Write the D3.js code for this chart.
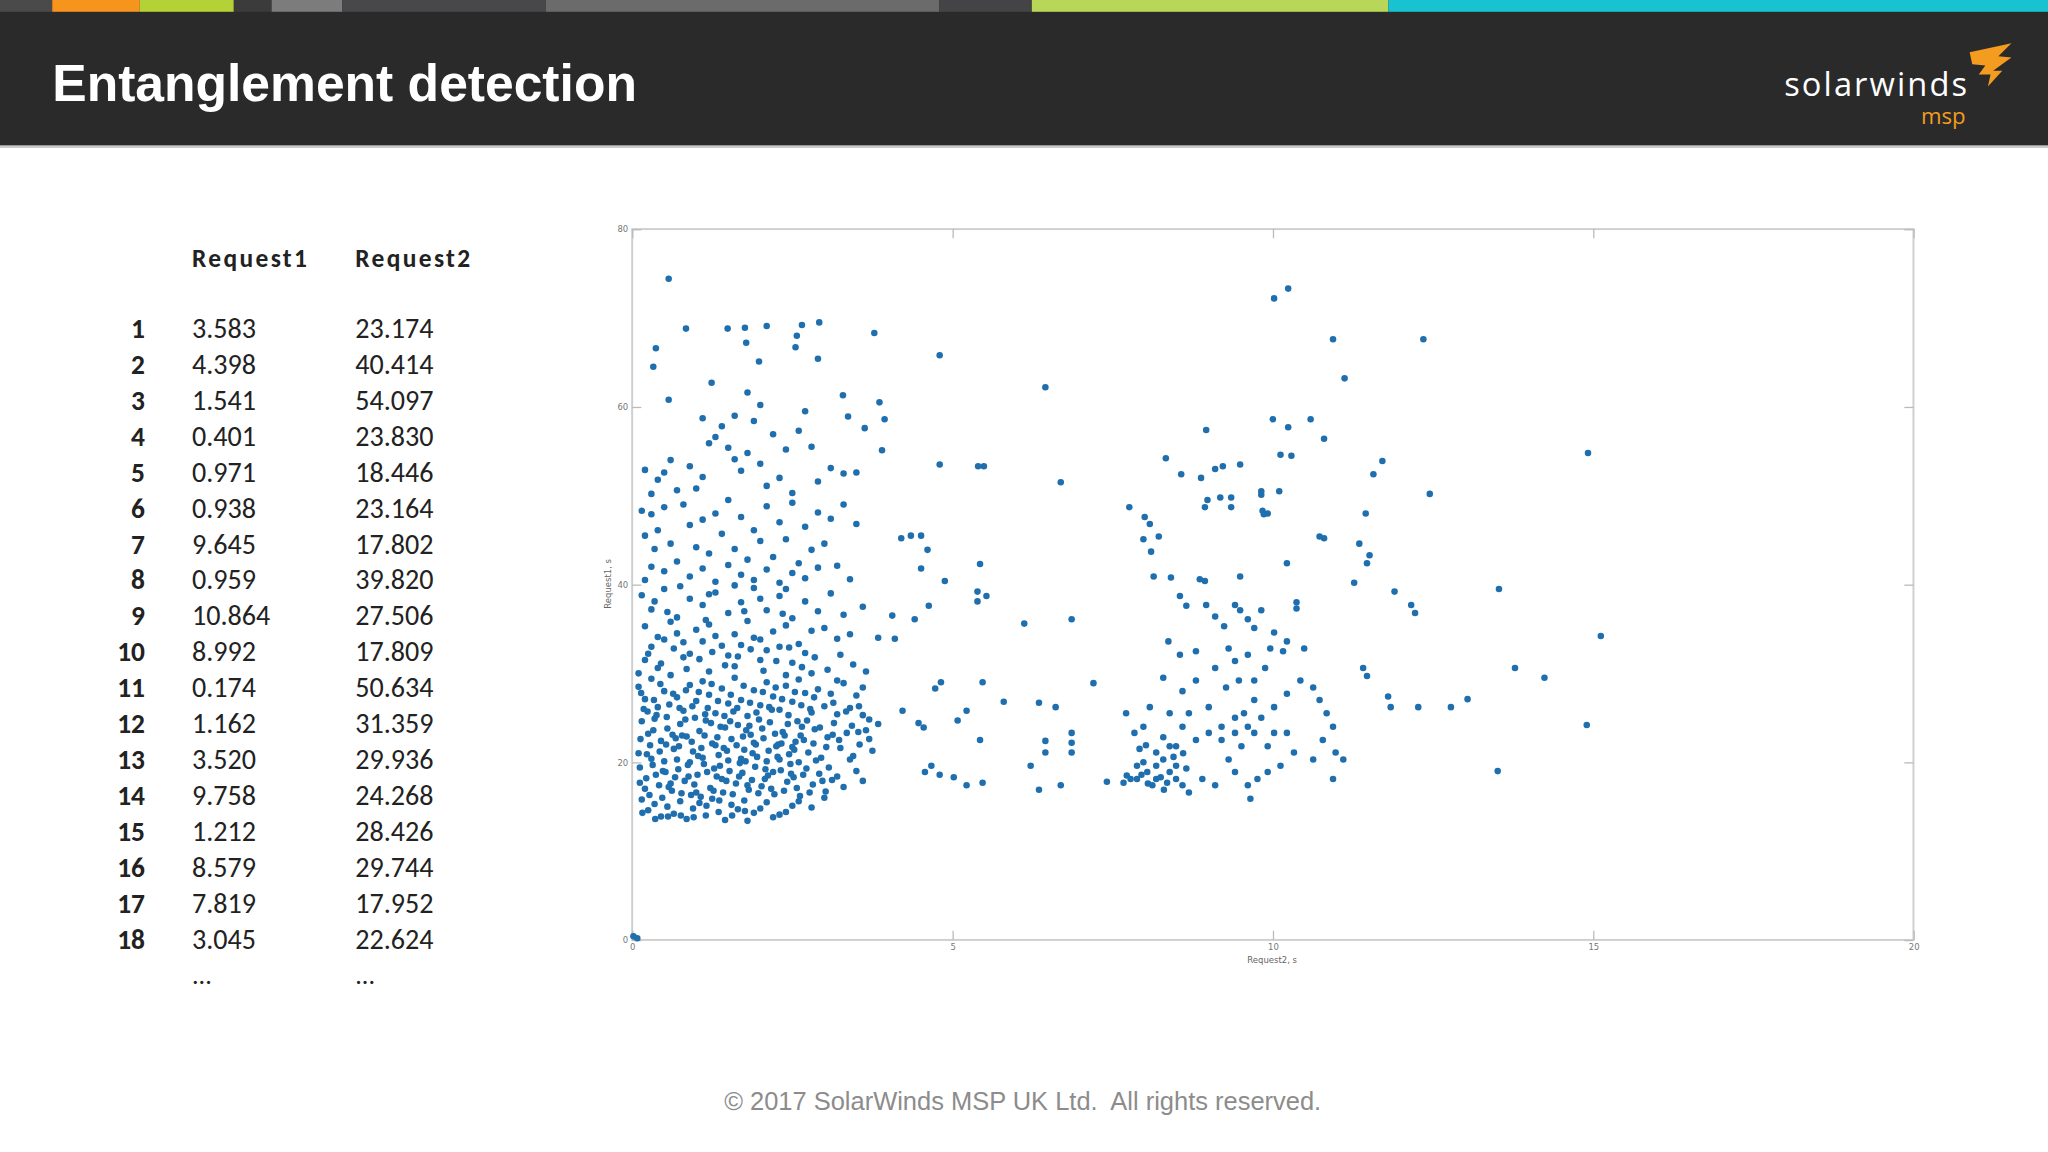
<!DOCTYPE html>
<html><head><meta charset="utf-8">
<script src="https://cdn.jsdelivr.net/npm/d3@7"></script>
<style>html,body{margin:0;padding:0;background:#fff;overflow:hidden}</style>
</head><body>
<script>
// ---- data ----
const tableIndex = [1,2,3,4,5,6,7,8,9,10,11,12,13,14,15,16,17,18];
const request1Col = ["3.583","4.398","1.541","0.401","0.971","0.938","9.645","0.959","10.864","8.992","0.174","1.162","3.520","9.758","1.212","8.579","7.819","3.045"];
const request2Col = ["23.174","40.414","54.097","23.830","18.446","23.164","17.802","39.820","27.506","17.809","50.634","31.359","29.936","24.268","28.426","29.744","17.952","22.624"];
const xTicks = [0,5,10,15,20];
const yTicks = [0,20,40,60,80];
const stripeColors = ["#4a4a4b","#f7941d","#b4d236","#3b3b3c","#7c7c7d","#48484b","#6b6b6c","#444446","#b8d658","#18c3d1"];
const stripeWidths = [40,67,72,29,54,156,301,71,273,505];

// scatter points [Request2 (x), Request1 (y)]
const sparsePts = [[0.57,74.4],[10.02,72.2],[10.24,73.3],[0.84,68.8],[1.49,68.8],[1.76,68.9],[2.1,69.1],[2.65,69.2],[2.92,69.5],[3.78,68.3],
[0.37,66.6],[0.33,64.5],[1.78,67.2],[1.98,65.1],[2.55,66.7],[2.9,65.4],[2.57,68.0],[4.8,65.8],[6.45,62.2],[10.94,67.6],[11.12,63.2],[12.35,67.6],
[0.57,60.8],[1.24,62.7],[1.8,61.6],[3.29,61.3],[3.86,60.5],[3.94,58.6],[3.9,55.1],[3.37,58.9],[3.63,57.6],
[14.92,54.8],[15.12,34.2],[14.9,24.2],[13.51,19.0],[13.53,39.5],[13.78,30.6],[14.24,29.5],
[12.45,50.2],[11.71,53.9],[11.57,52.4],[11.45,48.0],[11.35,44.6],[11.51,43.3],[11.47,42.4],[11.27,40.2],[11.9,39.2],[12.16,37.7],[12.22,36.8],[11.41,30.6],[11.47,29.7],[11.8,27.4],[11.84,26.2],[12.27,26.2],[12.78,26.2],[13.04,27.1],[10.8,56.4],[10.59,58.6],[10.0,58.6],[10.24,57.7],[10.12,54.6],[10.29,54.5],[10.73,45.4],[10.8,45.2],
[4.8,53.5],[5.4,53.3],[5.49,53.3],[5.43,42.3],[5.39,39.2],[5.53,38.7],[5.39,38.1],[6.12,35.6],[6.86,36.1],[6.69,51.5],[4.35,45.5],[4.51,45.5],[4.2,45.2],[4.61,43.9],[4.51,41.8],[4.88,40.4],[4.63,37.6],[4.41,36.1],[4.06,36.5],[4.1,33.9],[3.84,34.0],[4.82,29.0],[4.73,28.3],[5.47,29.0],[5.22,25.8],[5.08,24.7],[4.47,24.4],[4.55,23.9],[5.8,26.8],[6.35,26.7],[6.61,26.2],[5.43,22.5],[4.67,19.6],[4.57,18.9],[4.8,18.6],[5.02,18.3],[5.22,17.4],[5.47,17.7],[6.22,19.6],[6.35,16.9],[6.69,17.4],[6.45,22.4],[6.45,21.1],[6.86,23.3],[6.86,22.2],[6.86,21.1],[7.2,28.9],[7.41,17.8],[4.22,25.8],[3.84,24.3],
[0.02,0.4],[0.08,0.2]];
const cluster2Pts = [[7.76,48.7],[8.0,47.6],[8.08,46.8],[7.98,45.1],[8.22,45.4],[8.1,43.7],[8.33,54.2],[8.41,40.8],[8.14,40.9],[8.57,52.4],[8.88,52.0],[8.98,49.5],[9.18,49.8],[9.35,49.8],[9.1,53.0],[9.22,53.3],[9.49,53.5],[8.96,57.4],[8.94,48.7],[9.35,48.7],[9.86,47.9],[9.92,48.0],[9.84,48.3],[9.82,50.1],[9.82,50.5],[10.1,50.5],[10.22,42.4],[9.49,40.9],[8.86,40.6],[8.94,40.4],[8.55,38.7],[8.65,37.6],[8.96,37.7],[9.41,37.7],[9.49,37.1],[9.61,36.1],[9.71,35.1],[9.1,36.4],[9.24,35.3],[9.82,37.1],[10.37,37.3],[10.22,33.6],[10.02,34.6],[10.16,32.5],[10.49,32.8],[10.37,38.0],[8.37,33.6],[8.55,32.1],[8.8,32.5],[9.31,32.8],[9.61,32.1],[9.88,30.6],[9.1,30.6],[8.8,29.2],[8.59,28.0],[8.29,29.5],[8.08,26.2],[8.39,25.5],[8.69,25.5],[9.0,26.2],[9.41,25.0],[9.61,24.0],[9.82,25.0],[10.02,26.2],[10.22,27.7],[10.43,29.2],[10.63,28.4],[10.73,27.0],[10.84,25.5],[10.94,24.0],[10.78,22.5],[10.98,21.1],[11.1,20.3],[10.94,18.1],[10.63,20.3],[10.33,21.1],[10.12,19.6],[9.92,21.8],[9.71,23.3],[9.51,21.8],[9.31,20.3],[9.2,22.5],[9.0,23.3],[8.8,22.5],[8.59,24.0],[8.49,21.8],[8.29,22.8],[7.98,24.0],[7.71,25.5],[7.84,23.3],[7.92,21.5],[7.67,17.7],[7.78,18.1],[7.88,18.1],[8.04,18.9],[8.18,19.6],[8.29,20.3],[8.18,21.1],[8.39,18.9],[8.49,18.1],[8.59,17.4],[8.69,16.6],[8.9,18.1],[9.1,17.4],[9.41,18.9],[9.61,17.4],[9.76,18.1],[9.65,15.9],[8.12,17.4],[8.35,17.7],[7.98,20.0],[8.39,21.8],[8.49,19.6],[8.18,18.1],[7.88,19.6],[8.65,19.3],[9.92,18.9],[10.02,23.3],[10.22,23.3],[9.71,27.0],[9.47,29.2],[9.27,28.4],[9.71,29.2],[9.41,31.4],[9.96,32.8],[9.2,24.0],[9.41,23.3],[9.55,25.5],
[7.95,18.6],[8.05,17.6],[8.25,18.3],[8.45,20.6],[8.02,21.9],[8.6,21.0],[8.3,16.9],[7.72,18.5]];
const cluster1Pts = [[0.2,52.9],[0.4,51.8],[0.5,52.6],[0.3,50.2],[0.7,50.6],[0.9,53.3],[1.1,52.1],[1.3,56.6],[1.5,55.4],[1.6,54.1],[1.8,54.8],[2.0,53.6],[1.4,57.8],[1.9,58.4],[2.2,56.9],[2.4,55.2],[2.6,57.3],[2.8,55.5],[1.2,55.9],[1.7,52.8],[2.3,52.0],[2.9,51.6],[3.1,53.1],[3.3,52.5],[2.5,50.3],[2.1,51.1],[1.0,50.8],[0.6,54.0],[3.5,52.6],[2.7,59.5],[1.6,59.0],[2.0,60.2],[1.1,58.7],
[0.15,48.3],[0.3,47.9],[0.5,48.7],[0.8,49.0],[0.4,46.1],[0.2,45.5],[0.6,44.6],[0.9,46.7],[1.1,47.3],[1.3,48.0],[1.5,49.5],[1.7,47.6],[1.9,46.1],[2.1,48.8],[2.3,47.0],[2.5,49.2],[2.7,46.5],[2.9,48.1],[3.1,47.4],[3.3,49.0],[3.5,46.8],[1.0,44.2],[1.2,43.5],[1.4,45.7],[1.6,44.0],[1.8,42.8],[2.0,44.9],[2.2,43.1],[2.4,45.1],[2.6,42.4],[2.8,43.9],[3.0,44.6],[3.2,42.1],[0.3,42.0],[0.5,41.5],[0.7,42.6],[0.9,40.9],[1.1,41.8],[1.3,40.3],[1.5,42.2],[1.7,41.1],[1.9,40.5],[2.1,41.7],[2.3,40.2],[2.5,41.3],[2.7,40.7],[2.9,41.9],[3.4,40.6],[0.2,40.5],[0.35,44.0],
[0.15,38.8],[0.3,37.2],[0.5,39.5],[0.7,36.3],[0.9,38.4],[1.1,37.7],[1.3,39.1],[1.5,36.8],[1.7,38.0],[1.9,39.6],[2.1,37.1],[2.3,38.7],[2.5,36.2],[2.7,38.1],[2.9,37.0],[3.1,39.0],[3.3,36.6],[3.6,37.5],[0.2,35.3],[0.4,34.1],[0.6,35.8],[0.8,33.5],[1.0,34.9],[1.2,35.5],[1.4,33.1],[1.6,34.4],[1.8,35.9],[2.0,33.8],[2.2,34.7],[2.4,35.4],[2.6,33.3],[2.8,34.8],[3.0,35.1],[3.2,33.9],[3.4,34.4],[0.25,32.2],[0.45,31.1],[0.65,32.8],[0.85,30.5],[1.05,31.6],[1.25,32.4],[1.45,30.9],[1.65,31.9],[1.85,32.7],[2.05,30.3],[2.25,31.4],[2.45,32.9],[2.65,30.7],[2.85,31.8],[3.05,30.4],[3.25,32.1],[3.45,31.0],[3.65,30.2],[0.1,30.0],[0.55,36.9],[1.15,36.0],[1.75,37.0],[2.35,36.7],
[0.1,28.5],[0.2,27.1],[0.3,29.4],[0.4,26.2],[0.5,28.0],[0.6,29.8],[0.7,27.3],[0.8,25.8],[0.9,28.7],[1.0,26.9],[1.1,29.1],[1.2,27.6],[1.3,25.5],[1.4,28.3],[1.5,26.6],[1.6,29.5],[1.7,27.0],[1.8,25.2],[1.9,28.1],[2.0,26.4],[2.1,29.0],[2.2,27.4],[2.3,25.9],[2.4,28.6],[2.5,26.8],[2.6,29.3],[2.7,27.8],[2.8,25.6],[2.9,28.2],[3.0,26.3],[3.1,27.7],[3.2,25.4],[3.3,28.9],[3.4,26.1],[3.5,27.5],[3.6,25.3],[3.7,24.8],
[0.15,24.6],[0.25,23.2],[0.35,24.9],[0.45,22.4],[0.55,23.8],[0.65,21.5],[0.75,24.3],[0.85,22.9],[0.95,21.2],[1.05,23.5],[1.15,24.7],[1.25,22.1],[1.35,20.8],[1.45,23.9],[1.55,22.6],[1.65,24.2],[1.75,21.4],[1.85,23.1],[1.95,20.6],[2.05,22.7],[2.15,24.5],[2.25,21.8],[2.35,23.4],[2.45,20.9],[2.55,22.3],[2.65,24.0],[2.75,21.1],[2.85,23.7],[2.95,20.5],[3.05,22.8],[3.15,24.4],[3.25,21.6],[3.35,23.3],[3.45,20.7],[3.55,22.0],[3.65,23.6],[3.75,21.3],
[0.1,21.0],[0.3,20.4],[0.5,20.1],[0.7,20.3],[0.9,20.0],[1.1,20.5],[1.3,21.9],[1.5,20.2],[1.7,20.4],[1.9,22.2],[2.1,20.1],[2.3,20.3],[2.5,21.7],
[0.12,19.4],[0.22,18.2],[0.32,19.7],[0.42,17.4],[0.52,18.9],[0.62,16.8],[0.72,19.2],[0.82,17.9],[0.92,16.3],[1.02,18.6],[1.12,19.8],[1.22,17.1],[1.32,18.4],[1.42,16.6],[1.52,19.0],[1.62,17.6],[1.72,18.8],[1.82,16.9],[1.92,19.5],[2.02,17.3],[2.12,18.5],[2.22,16.4],[2.32,19.1],[2.42,17.8],[2.52,18.3],[2.62,16.2],[2.72,19.3],[2.82,17.5],[2.92,18.7],[3.02,16.7],[3.12,18.0],[3.3,17.2],[3.5,19.0],[3.6,17.9],
[0.15,15.8],[0.25,14.6],[0.35,15.3],[0.45,13.9],[0.55,15.0],[0.65,14.2],[0.75,15.6],[0.85,13.6],[0.95,14.8],[1.05,15.4],[1.15,14.0],[1.25,15.9],[1.35,14.4],[1.45,13.5],[1.55,15.2],[1.65,14.7],[1.75,15.7],[1.9,14.3],[2.1,15.5],[2.3,14.1],[2.5,15.1],[2.8,14.9],[3.0,16.0],[1.8,13.4],[2.2,13.8],
[0.18,26.0],[0.38,25.3],[0.58,26.5],[0.78,23.0],[0.98,25.0],[1.18,26.1],[1.38,24.0],[1.58,25.7],[1.78,23.6],[1.98,24.8],[2.18,25.9],[2.38,23.0],[2.58,24.6],[2.78,26.0],[0.28,21.9],[0.48,19.0],[0.68,22.7],[0.88,18.4],[1.08,21.6],[1.28,19.3],[1.48,21.3],[1.68,19.9],[1.88,21.0],[2.08,19.2],[2.28,22.0],[2.48,18.7],[2.68,22.5],[0.2,17.0],[0.6,17.6],[1.0,16.6],[1.4,18.1],[1.8,17.4],[2.2,18.9],[2.6,20.0],[0.4,30.6],[0.8,31.8],[1.2,30.2],[1.6,30.8],[2.0,31.5],[2.4,29.8],[2.8,30.0],[3.2,29.2],[3.6,28.4],[0.3,33.0],[0.7,34.5],[1.1,33.6],[1.5,32.0],[1.9,34.0],[2.3,33.0],[2.7,32.3],
[0.12,17.7],[0.27,16.3],[0.37,18.6],[0.47,16.0],[0.57,17.2],[0.67,18.3],[0.77,16.5],[0.87,19.7],[0.97,17.5],[1.07,16.1],[1.17,18.9],[1.27,16.8],[1.37,19.6],[1.47,17.9],[1.57,16.4],[1.67,18.4],[1.77,20.1],[1.87,18.0],[1.97,16.5],[2.07,18.1],[2.17,17.0],[2.27,20.6],[2.37,16.8],[2.47,19.8],[2.57,17.1],[2.67,18.6],[2.77,16.6],[2.87,20.2],[2.97,17.9],[3.07,19.4],[3.2,18.4],[3.4,20.3],
[0.13,22.6],[0.23,20.9],[0.33,23.6],[0.43,21.2],[0.53,22.0],[0.63,23.1],[0.73,21.8],[0.83,24.8],[0.93,22.3],[1.03,20.7],[1.13,23.0],[1.23,24.4],[1.33,22.8],[1.43,21.6],[1.53,24.6],[1.63,21.9],[1.73,22.9],[1.83,24.1],[1.93,22.0],[2.03,23.8],[2.13,21.3],[2.23,23.2],[2.33,22.1],[2.43,24.3],[2.53,21.4],[2.63,23.0],[2.73,24.7],[2.83,22.1],[2.93,23.9],[3.03,21.7],[3.13,23.1],[3.23,22.5],[3.43,24.1],[3.53,23.4],[3.7,22.6],
[0.14,27.8],[0.24,25.7],[0.34,27.0],[0.44,28.8],[0.54,25.1],[0.64,27.7],[0.74,26.1],[0.84,28.1],[0.94,26.3],[1.04,27.9],[1.14,25.4],[1.24,28.8],[1.34,26.9],[1.44,25.2],[1.54,27.6],[1.64,26.1],[1.74,28.6],[1.84,26.7],[1.94,25.6],[2.04,27.9],[2.14,26.2],[2.24,28.4],[2.34,27.1],[2.44,25.3],[2.54,27.9],[2.64,26.4],[2.84,27.3],[3.14,26.7],[3.34,25.7],[3.54,26.3],
[0.16,14.3],[0.36,13.6],[0.56,13.9],[0.76,14.0],[0.96,13.8],[1.16,15.1],[1.36,15.7],[1.56,14.0],[1.76,14.5],[2.0,14.8],[2.4,14.4],[2.6,15.6],[0.2,31.5],[0.5,33.8],[0.9,32.2],[1.3,34.2],[1.7,33.2],[2.1,32.6],[2.5,31.2],[0.35,38.1],[0.75,39.8],[1.2,38.9],[1.6,39.9],[2.0,38.4],[2.4,39.5]];

// ---- drawing ----
const W = 1568, H = 880;
const svg = d3.select("body").append("svg")
  .attr("width", 2048).attr("height", 1152)
  .attr("viewBox", `0 0 ${W} ${H}`).attr("preserveAspectRatio", "none");

svg.append("rect").attr("width", W).attr("height", H).attr("fill", "#fff");
svg.append("rect").attr("x",0).attr("y",0).attr("width",W).attr("height",112).attr("fill","#2a2a2b");
svg.append("rect").attr("x",0).attr("y",111).attr("width",W).attr("height",2).attr("fill","#c8c8c8");
let sx = 0;
stripeColors.forEach((c,i)=>{
  svg.append("rect").attr("x",sx).attr("y",0).attr("width",stripeWidths[i]).attr("height",9).attr("fill",c);
  sx += stripeWidths[i];
});
svg.append("text").attr("x",40).attr("y",77).attr("fill","#fff")
  .attr("font-family","Liberation Sans, Arial, sans-serif").attr("font-weight","bold").attr("font-size",39.5)
  .text("Entanglement detection");
svg.append("text").attr("x",1506).attr("y",73).attr("text-anchor","end").attr("fill","#fff")
  .attr("font-family","Open Sans, sans-serif").attr("font-size",25).attr("textLength",140).text("solarwinds");
svg.append("text").attr("x",1505).attr("y",95).attr("text-anchor","end").attr("fill","#f39c1f")
  .attr("font-family","Open Sans, sans-serif").attr("font-size",17).text("msp");
svg.append("path").attr("d","M1508,40 L1540,33 L1530,43 L1540,44 L1526,54 L1533,54 L1522,66 L1524,57 L1515,57 L1520,50 L1510,49 Z")
  .attr("fill","#f39c1f");

const tf = "Carlito, Open Sans, Liberation Sans, sans-serif";
const hdr = (t,xx)=>svg.append("text").attr("x",xx).attr("y",204).attr("font-family",tf).attr("font-weight","bold").attr("font-size",19.5).attr("fill","#222").attr("textLength",88).text(t);
hdr("Request1",147); hdr("Request2",272);
const rowY = d3.scaleLinear().domain([1,18]).range([258,725]);
tableIndex.forEach((n,i)=>{
  const yy = rowY(n);
  svg.append("text").attr("x",111).attr("y",yy).attr("text-anchor","end").attr("font-family",tf).attr("font-weight","bold").attr("font-size",21).attr("fill","#222").text(n);
  svg.append("text").attr("x",147).attr("y",yy).attr("font-family",tf).attr("font-size",21.5).attr("fill","#222").text(request1Col[i]);
  svg.append("text").attr("x",272).attr("y",yy).attr("font-family",tf).attr("font-size",21.5).attr("fill","#222").text(request2Col[i]);
});
svg.append("text").attr("x",147).attr("y",752).attr("font-family",tf).attr("font-size",20).attr("fill","#222").text("...");
svg.append("text").attr("x",272).attr("y",752).attr("font-family",tf).attr("font-size",20).attr("fill","#222").text("...");

const x = d3.scaleLinear().domain([0,20]).range([484,1465]);
const y = d3.scaleLinear().domain([0,80]).range([718,175]);
svg.append("rect").attr("x",484).attr("y",175).attr("width",981).attr("height",543)
  .attr("fill","none").attr("stroke","#cfcfcf").attr("stroke-width",1.5);
const axStyle = g => { g.selectAll("path").remove(); g.selectAll("line").attr("stroke","#bbb");
  g.selectAll("text").attr("fill","#777").attr("font-size",6.5).attr("font-family","DejaVu Sans, sans-serif"); };
svg.append("g").attr("transform","translate(0,718)").call(d3.axisBottom(x).tickValues(xTicks).tickSize(-7).tickPadding(3)).call(axStyle);
svg.append("g").attr("transform","translate(0,175)").call(d3.axisTop(x).tickValues(xTicks).tickSize(-7).tickFormat("")).call(axStyle);
svg.append("g").attr("transform","translate(484,0)").call(d3.axisLeft(y).tickValues(yTicks).tickSize(-7).tickPadding(3)).call(axStyle);
svg.append("g").attr("transform","translate(1465,0)").call(d3.axisRight(y).tickValues(yTicks).tickSize(-7).tickFormat("")).call(axStyle);
svg.append("text").attr("x",974).attr("y",736).attr("text-anchor","middle").attr("font-size",6.5).attr("fill","#666")
  .attr("font-family","DejaVu Sans, sans-serif").text("Request2, s");
svg.append("text").attr("transform","translate(468,446) rotate(-90)").attr("text-anchor","middle").attr("font-size",6.5).attr("fill","#666")
  .attr("font-family","DejaVu Sans, sans-serif").text("Request1, s");

const allPts = cluster1Pts.concat(cluster2Pts, sparsePts);
svg.append("g").selectAll("circle").data(allPts).join("circle")
  .attr("cx",d=>x(d[0])).attr("cy",d=>y(d[1])).attr("r",2.5)
  .attr("fill","#1f6fae");

svg.append("text").attr("x",783).attr("y",848).attr("text-anchor","middle").attr("fill","#8c8c8c")
  .attr("font-family","Liberation Sans, Arial, sans-serif").attr("font-size",19.5).style("white-space","pre")
  .text("© 2017 SolarWinds MSP UK Ltd.  All rights reserved.");
</script>
</body></html>
